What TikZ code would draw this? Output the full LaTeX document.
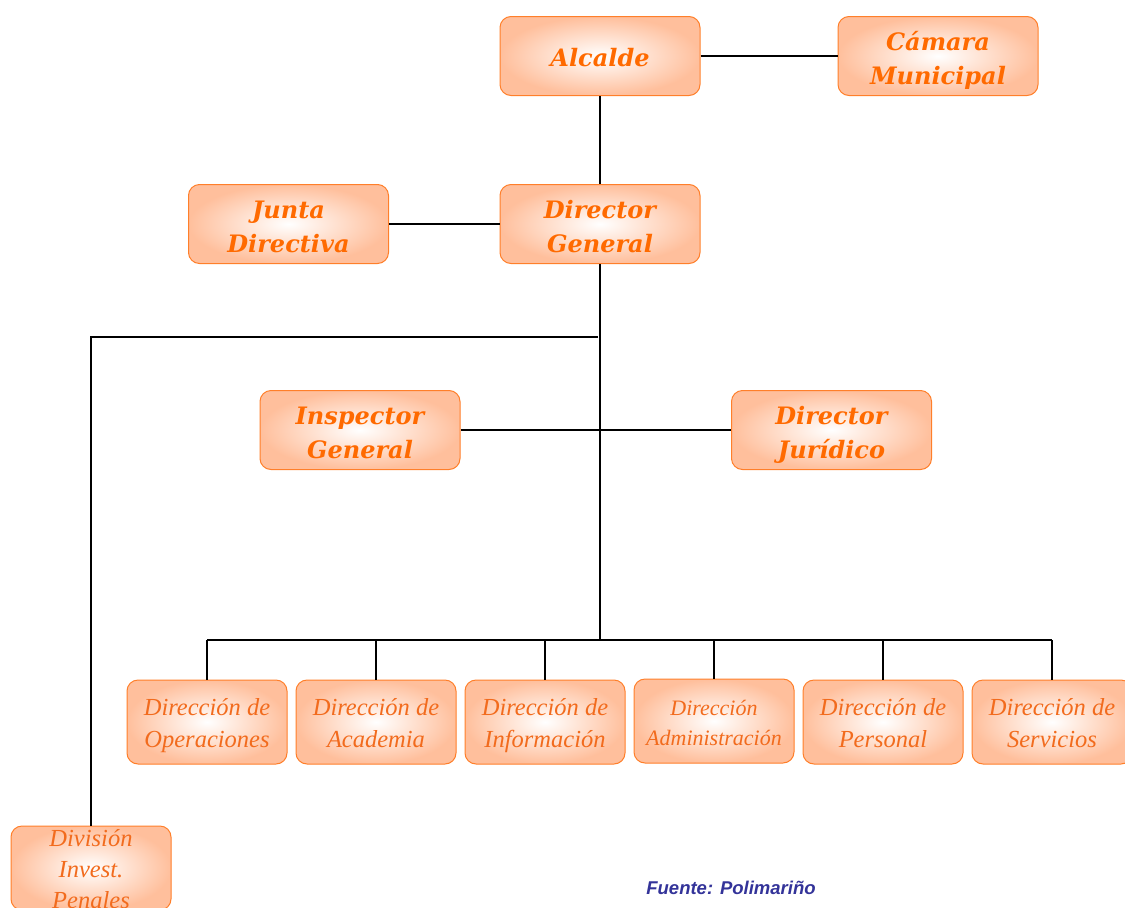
\documentclass[tikz,border=0pt]{standalone}
\usepackage{fontspec}
\setmainfont{Liberation Serif}
\newfontfamily\slabfont{DejaVu Serif}
\newfontfamily\fuentefont{Liberation Sans}
\definecolor{boxedge}{HTML}{FF7F2A}
\definecolor{boxfill}{HTML}{FFBF9C}
\definecolor{txt}{HTML}{FF6A00}
\definecolor{txtlow}{HTML}{F26B1D}
\definecolor{fuente}{HTML}{333399}
\newcommand\mlines[2]{\raisebox{#1}[0pt][0pt]{\begin{tabular}{@{}c@{}}#2\end{tabular}}}
\tikzset{
  basebox/.style={draw=boxedge, line width=1pt, rounded corners=11pt, inner color=white, outer color=boxfill, align=center, inner sep=0pt},
  topbox/.style={basebox, minimum width=200pt, minimum height=79pt, text=txt, font=\slabfont\bfseries\itshape\fontsize{24}{34}\selectfont},
  lowbox/.style={basebox, minimum width=160pt, minimum height=84pt, text=txtlow, font=\itshape\fontsize{24.5}{32}\selectfont},
  link/.style={draw=black, line width=1.6pt}
}
\begin{document}
\begin{tikzpicture}[x=1pt, y=-1pt]
\useasboundingbox (0,0) rectangle (1125,908);
\node[topbox] (alc) at (600,56) {\mlines{-10pt}{Alcalde}};
\node[topbox] (cam) at (938,56) {\mlines{-11pt}{Cámara\\Municipal}};
\node[topbox] (jd) at (288.5,224) {\mlines{-11pt}{Junta\\Directiva}};
\node[topbox] (dg) at (600,224) {\mlines{-11pt}{Director\\General}};
\node[topbox] (ig) at (360,430) {\mlines{-11pt}{Inspector\\General}};
\node[topbox] (dj) at (831.5,430) {\mlines{-11pt}{Director\\Jurídico}};
\node[lowbox] (d1) at (207,722) {\mlines{-9.5pt}{Dirección de\\Operaciones}};
\node[lowbox] (d2) at (376,722) {\mlines{-9.5pt}{Dirección de\\Academia}};
\node[lowbox] (d3) at (545,722) {\mlines{-9.5pt}{Dirección de\\Información}};
\node[lowbox, font=\itshape\fontsize{22}{30}\selectfont] (d4) at (714,721) {\mlines{-8.5pt}{Dirección\\Administración}};
\node[lowbox] (d5) at (883,722) {\mlines{-9.5pt}{Dirección de\\Personal}};
\node[lowbox] (d6) at (1052,722) {\mlines{-9.5pt}{Dirección de\\Servicios}};
\node[lowbox, font=\itshape\fontsize{24.5}{31}\selectfont] (div) at (91,868) {\mlines{-10pt}{División\\Invest.\\Penales}};
\node[text=fuente, font=\fuentefont\bfseries\itshape\fontsize{18.5}{20}\selectfont] (src) at (731,888) {Fuente: Polimariño};
\coordinate (bus) at (600,640);
\coordinate (sp) at (598,337);
\draw[link] (alc.east) -- (cam.west);
\draw[link] (alc.south) -- (dg.north);
\draw[link] (jd.east) -- (dg.west);
\draw[link] (dg.south) -- (bus);
\draw[link] (ig.east) -- (dj.west);
\draw[link] (sp) -| (div.north);
\draw[link] (d1.north |- bus) -- (d6.north |- bus);
\foreach \d in {d1,d2,d3,d4,d5,d6} {\draw[link] (\d.north) -- (\d.north |- bus);}
\end{tikzpicture}
\end{document}
